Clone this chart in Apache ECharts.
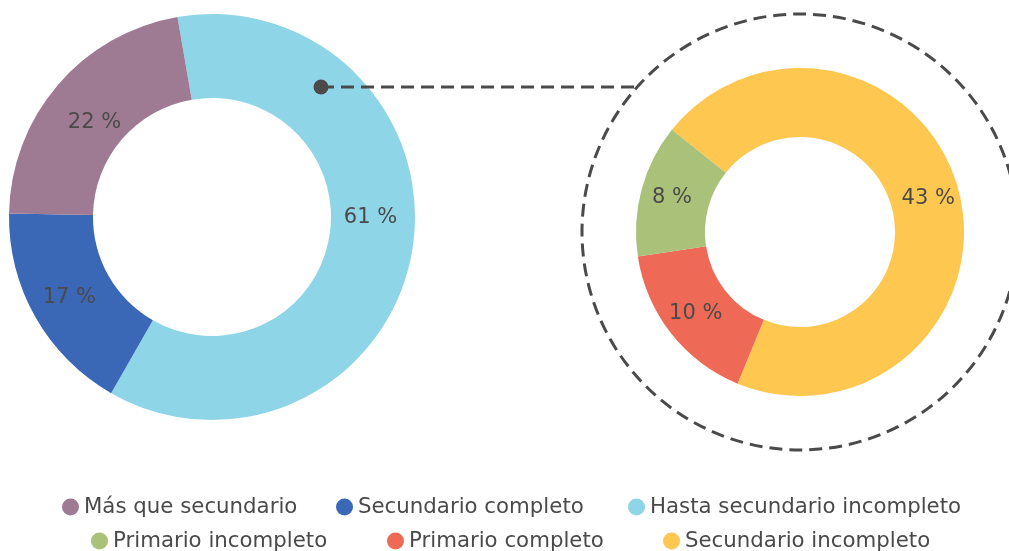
<!DOCTYPE html>
<html>
<head>
<meta charset="utf-8">
<script src="https://cdn.jsdelivr.net/npm/echarts@6/dist/echarts.min.js"></script>
<style>
  html, body { margin: 0; padding: 0; background: #fff; }
  #chart { width: 1009px; height: 551px; }
</style>
</head>
<body>
<div id="chart"></div>
<script>
// datos: nivel educativo
let mainNames = ["Hasta secundario incompleto", "Secundario completo", "Más que secundario"];
let mainValues = [61, 17, 22];
let mainColors = ["#8fd5e8", "#3b68b6", "#9e7b93"];

let detailNames = ["Secundario incompleto", "Primario completo", "Primario incompleto"];
let detailValues = [43, 10, 8];
let detailColors = ["#fec74f", "#ee6a57", "#a9c178"];

// orden de la leyenda (fila 1 y fila 2)
let legendRow1 = ["Más que secundario", "Secundario completo", "Hasta secundario incompleto"];
let legendRow2 = ["Primario incompleto", "Primario completo", "Secundario incompleto"];

let Chart = echarts.init(document.getElementById("chart"));

let leftCenter = [212, 217];
let rightCenter = [800, 232];
let ringR = 218;
let dotY = 87;
let dotX = 321;
let txtColor = '#4a4a4a';
let fontFam = 'DejaVu Sans';

function pieData(names, values, colors) {
    let data = [];
    for (let i = 0; i < names.length; ++i) {
        data.push({
            name: names[i],
            value: values[i],
            itemStyle: { color: colors[i] }
        });
    }
    return data;
}

let leftData = pieData(mainNames, mainValues, mainColors);
// etiquetas movidas un poco, como en el original
leftData[0].label = { offset: [-3, -28] };
leftData[2].label = { offset: [7, 12] };

let rightData = pieData(detailNames, detailValues, detailColors);

let legendX1 = [62, 336, 628];
let legendX2 = [91, 387, 663];
let legends = [];
function addLegends(row, xs, cy) {
    for (let i = 0; i < row.length; ++i) {
        legends.push({
            data: [row[i]],
            left: xs[i],
            top: cy - 12,
            padding: 0,
            icon: 'circle',
            itemWidth: 17,
            itemHeight: 17,
            selectedMode: false,
            textStyle: {
                fontFamily: fontFam,
                fontSize: 21.3,
                lineHeight: 24,
                color: txtColor
            }
        });
    }
}
addLegends(legendRow1, legendX1, 507);
addLegends(legendRow2, legendX2, 541);

let lineEndX = rightCenter[0] - Math.sqrt(ringR * ringR - Math.pow(rightCenter[1] - dotY, 2));

let labelStyle = {
    position: 'inside',
    formatter: '{c} %',
    fontFamily: fontFam,
    fontSize: 21,
    color: txtColor
};

let option = {
    backgroundColor: '#fff',
    animation: false,
    legend: legends,
    graphic: [
        {
            type: 'circle',
            shape: { cx: rightCenter[0], cy: rightCenter[1], r: ringR },
            style: { fill: null, stroke: '#4a4a4a', lineWidth: 3, lineDash: [13, 7] },
            z: 1
        },
        {
            type: 'line',
            shape: { x1: dotX, y1: dotY, x2: lineEndX, y2: dotY },
            style: { stroke: '#4a4a4a', lineWidth: 3, lineDash: [13, 7] },
            z: 10
        },
        {
            type: 'circle',
            shape: { cx: dotX, cy: dotY, r: 7.5 },
            style: { fill: '#4a4a4a' },
            z: 11
        }
    ],
    series: [
        {
            type: 'pie',
            center: leftCenter,
            radius: [119, 203],
            startAngle: 99.8,
            clockwise: true,
            label: labelStyle,
            labelLine: { show: false },
            emphasis: { disabled: true },
            itemStyle: { borderWidth: 0 },
            data: leftData
        },
        {
            type: 'pie',
            center: rightCenter,
            radius: [95, 164],
            startAngle: 141.4,
            clockwise: true,
            label: labelStyle,
            labelLine: { show: false },
            emphasis: { disabled: true },
            itemStyle: { borderWidth: 0 },
            data: rightData
        }
    ]
};

Chart.setOption(option);
</script>
</body>
</html>
